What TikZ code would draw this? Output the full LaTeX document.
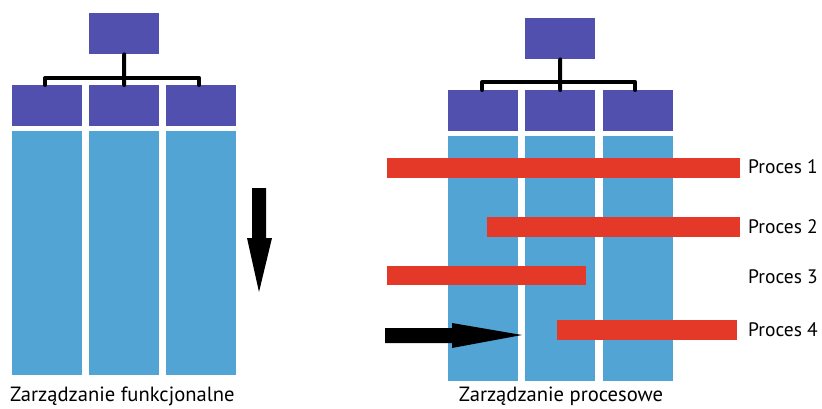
\documentclass[tikz,border=0pt]{standalone}
\usepackage{fontspec}
\setmainfont{PT Sans}
\definecolor{mgr}{RGB}{82,80,174}
\definecolor{col}{RGB}{82,164,212}
\definecolor{proc}{RGB}{228,56,40}
\begin{document}
\begin{tikzpicture}[x=1pt,y=-1pt,
  mbox/.style={fill=mgr,draw=none,inner sep=0pt,anchor=north west,minimum width=70pt,minimum height=41pt},
  column/.style={fill=col,draw=none,inner sep=0pt,anchor=north west,minimum width=70pt,minimum height=244pt},
  bar/.style={fill=proc,draw=none,inner sep=0pt,anchor=north west,minimum height=20pt},
  link/.style={line width=4pt,line cap=round,line join=round},
  plabel/.style={anchor=west,inner sep=0pt,font=\fontsize{19.5}{22}\selectfont},
  caption/.style={anchor=base,inner sep=0pt,font=\fontsize{20.6}{24}\selectfont}]
\useasboundingbox (0,0) rectangle (822,408);
\fill[white] (0,0) rectangle (822,408);

% --- functional management ---
\node[mbox] (ftop) at (89,13) {};
\node[mbox] (f1) at (12,85) {};
\node[mbox] (f2) at (89,85) {};
\node[mbox] (f3) at (166,85) {};
\node[column] (fc1) at (12,131) {};
\node[column] (fc2) at (89,131) {};
\node[column] (fc3) at (166,131) {};
\coordinate (fj) at (124,78);
\draw[link] (ftop.south) -- (fj);
\draw[link] (f1.north) ++(-2,0) |- (fj) -| ([xshift=-2pt]f3.north);
\draw[link] (fj) -- (f2.north);
% downward arrow
\coordinate (fdn) at (259,292);
\fill[black] (252,188) -- (266,188) -- (266,238) -- (272,238) -- (fdn) -- (247,238) -- (252,238) -- cycle;
\node[caption,anchor=base west] (fcap) at (10,401.5) {Zarządzanie funkcjonalne};

% --- process management ---
\node[mbox] (ptop) at (525,18) {};
\node[mbox] (p1) at (448,90) {};
\node[mbox] (p2) at (525,90) {};
\node[mbox] (p3) at (603,90) {};
\node[column,minimum height=245pt] (pc1) at (448,136) {};
\node[column,minimum height=245pt] (pc2) at (525,136) {};
\node[column,minimum height=245pt] (pc3) at (603,136) {};
\coordinate (pj) at (560,82);
\draw[link] (ptop.south) -- (pj);
\draw[link] ([xshift=-1pt]p1.north) |- (pj) -| ([xshift=-3pt]p3.north);
\draw[link] (pj) -- (p2.north);

\node[bar,minimum width=353pt] (b1) at (387,158) {};
\node[bar,minimum width=253pt] (b2) at (487,217) {};
\node[bar,minimum width=199pt,minimum height=19pt] (b3) at (387,266) {};
\node[bar,minimum width=180pt] (b4) at (557,320) {};
\node[plabel] (l1) at (748,167) {Proces 1};
\node[plabel] (l2) at (748,227) {Proces 2};
\node[plabel] (l3) at (748,277) {Proces 3};
\node[plabel] (l4) at (748,330) {Proces 4};
% rightward arrow
\coordinate (prt) at (522,335);
\fill[black] (385,328) -- (452,328) -- (452,323) -- (prt) -- (452,348) -- (452,343) -- (385,343) -- cycle;
\node[caption] (pcap) at (561,401.5) {Zarządzanie procesowe};
\end{tikzpicture}
\end{document}
